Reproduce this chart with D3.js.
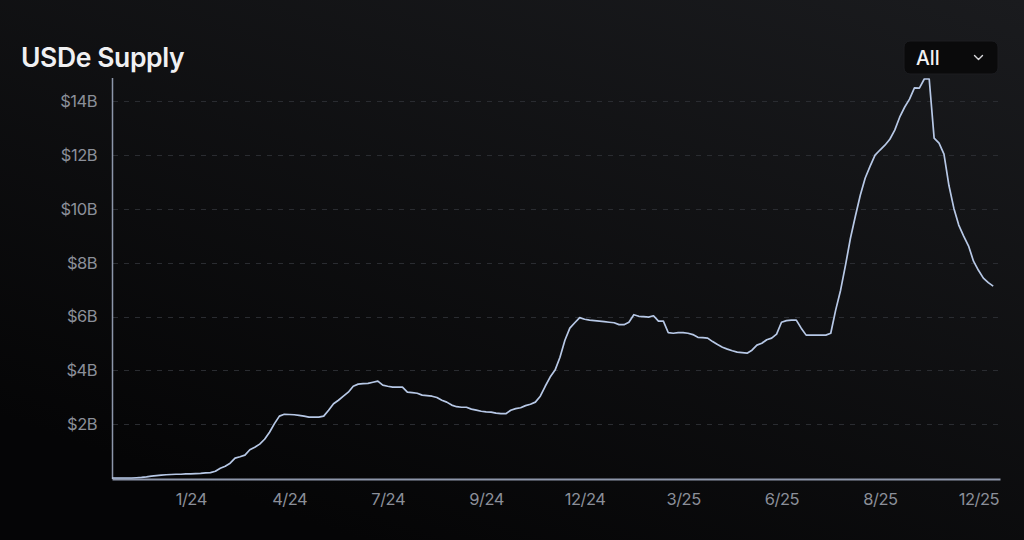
<!DOCTYPE html>
<html>
<head>
<meta charset="utf-8">
<script src="https://cdn.jsdelivr.net/npm/d3@7"></script>
<style>
  html, body { margin: 0; padding: 0; background: #0a0a0c; }
  svg { display: block; }
</style>
</head>
<body>
<svg id="chart" width="1024" height="540"></svg>
<script>
// ---- Data (USDe supply, $B) ----
const supplyValues = [
  0, 0, 0, 0, 0, 0.01, 0.02, 0.04, 0.07, 0.09,
  0.11, 0.12, 0.13, 0.14, 0.14, 0.15, 0.15, 0.16, 0.17, 0.19,
  0.20, 0.25, 0.36, 0.44, 0.55, 0.74, 0.79, 0.85, 1.05, 1.14,
  1.26, 1.44, 1.70, 2.02, 2.30, 2.37, 2.36, 2.35, 2.33, 2.30,
  2.26, 2.26, 2.26, 2.30, 2.52, 2.76, 2.89, 3.04, 3.19, 3.41,
  3.49, 3.51, 3.52, 3.56, 3.60, 3.45, 3.41, 3.38, 3.38, 3.38,
  3.19, 3.17, 3.15, 3.08, 3.06, 3.04, 2.99, 2.89, 2.82, 2.71,
  2.65, 2.63, 2.63, 2.56, 2.52, 2.48, 2.46, 2.45, 2.41, 2.39,
  2.39, 2.52, 2.58, 2.61, 2.69, 2.74, 2.82, 3.04, 3.41, 3.75,
  4.01, 4.49, 5.12, 5.57, 5.77, 5.96, 5.90, 5.87, 5.85, 5.83,
  5.81, 5.79, 5.77, 5.70, 5.70, 5.79, 6.07, 6.01, 6.00, 5.98,
  6.03, 5.83, 5.83, 5.40, 5.38, 5.40, 5.40, 5.38, 5.33, 5.23,
  5.22, 5.20, 5.07, 4.96, 4.86, 4.79, 4.73, 4.68, 4.66, 4.64,
  4.75, 4.94, 5.01, 5.14, 5.20, 5.35, 5.79, 5.85, 5.87, 5.87,
  5.57, 5.31, 5.31, 5.31, 5.31, 5.31, 5.38, 6.24, 6.98, 7.91,
  8.91, 9.73, 10.51, 11.15, 11.59, 12.00, 12.19, 12.37, 12.59, 12.93,
  13.41, 13.78, 14.08, 14.50, 14.49, 14.83, 14.83, 12.63, 12.45, 12.04,
  10.88, 10.03, 9.40, 8.99, 8.62, 8.06, 7.72, 7.43, 7.26, 7.13
];
const xTickIndex  = [16, 36, 56, 76, 96, 116, 136, 156, 176];
const xTickLabels = ["1/24", "4/24", "7/24", "9/24", "12/24", "3/25", "6/25", "8/25", "12/25"];
const yTickValues = [2, 4, 6, 8, 10, 12, 14];
const titleText = "USDe Supply";
const rangeLabel = "All";

// ---- Layout ----
const W = 1024, H = 540;
const mLeft = 112, mRight = 1000, mTop = 79, mBottom = 478;
const FONT = "Inter, 'Noto Sans', 'DejaVu Sans', sans-serif";

const svg = d3.select("#chart");
const defs = svg.append("defs");
const bg = defs.append("linearGradient").attr("id", "bg")
  .attr("x1", "1").attr("y1", "0").attr("x2", "0.35").attr("y2", "1");
bg.append("stop").attr("offset", "0%").attr("stop-color", "#1a1b1e");
bg.append("stop").attr("offset", "100%").attr("stop-color", "#050506");
svg.append("rect").attr("width", W).attr("height", H).attr("fill", "url(#bg)");

const x = d3.scaleLinear()
  .domain([0, (supplyValues.length - 1) * (mRight - mLeft) / 881.2])
  .range([mLeft, mRight]);
const y = d3.scaleLinear()
  .domain([0, d3.max(supplyValues)])
  .range([mBottom, mTop]);

// grid
svg.append("g").selectAll("line").data(yTickValues).join("line")
  .attr("x1", mLeft + 1).attr("x2", mRight)
  .attr("y1", d => Math.round(y(d)) + 0.5).attr("y2", d => Math.round(y(d)) + 0.5)
  .attr("stroke", "#2a2c31").attr("stroke-width", 1)
  .attr("stroke-dasharray", "5 6");

// y axis
const yAxis = svg.append("g").attr("transform", `translate(${mLeft},0)`)
  .call(d3.axisLeft(y).tickValues(yTickValues).tickSize(0).tickPadding(15)
    .tickFormat(d => `$${d}B`));
yAxis.select(".domain").remove();
yAxis.selectAll("text").attr("fill", "#8b8f99")
  .style("font-family", FONT).style("font-size", "16.5px").style("letter-spacing", "-0.5px");

svg.append("line").attr("x1", mLeft + 0.5).attr("x2", mLeft + 0.5)
  .attr("y1", mTop - 1).attr("y2", mBottom + 1)
  .attr("stroke", "#8d96aa").attr("stroke-width", 1.5);

// x axis
const xAxis = svg.append("g").attr("transform", `translate(0,${mBottom + 1})`)
  .call(d3.axisBottom(x).tickValues(xTickIndex).tickSize(0).tickSizeOuter(0).tickPadding(14)
    .tickFormat((d, i) => xTickLabels[i]));
xAxis.select(".domain").attr("stroke", "#8d96aa").attr("stroke-width", 2);
xAxis.selectAll("text").attr("fill", "#8b8f99")
  .style("font-family", FONT).style("font-size", "16.5px").style("letter-spacing", "-0.5px");

// line
const line = d3.line().x((d, i) => x(i)).y(d => y(d));
svg.append("path").datum(supplyValues)
  .attr("d", line)
  .attr("fill", "none")
  .attr("stroke", "#b7c8e6")
  .attr("stroke-width", 1.7)
  .attr("stroke-linejoin", "round");

// title
svg.append("text").attr("x", 21).attr("y", 67).text(titleText)
  .attr("fill", "#f0f0f2").style("font-family", FONT)
  .style("font-size", "26.5px").style("font-weight", 600).style("letter-spacing", "-0.4px");

// dropdown
const dd = svg.append("g");
dd.append("rect").attr("x", 904).attr("y", 41).attr("width", 94).attr("height", 33)
  .attr("rx", 6).attr("fill", "#0a0a0b").attr("stroke", "#1c1d21").attr("stroke-width", 1);
dd.append("text").attr("x", 916).attr("y", 65).text(rangeLabel)
  .attr("fill", "#f2f2f4").style("font-family", FONT).style("font-size", "19.5px").style("font-weight", 500);
dd.append("path").attr("d", "M974.5,55.5 L978.5,59.5 L982.5,55.5")
  .attr("fill", "none").attr("stroke", "#d8d8dc").attr("stroke-width", 1.4)
  .attr("stroke-linecap", "round").attr("stroke-linejoin", "round");
</script>
</body>
</html>
